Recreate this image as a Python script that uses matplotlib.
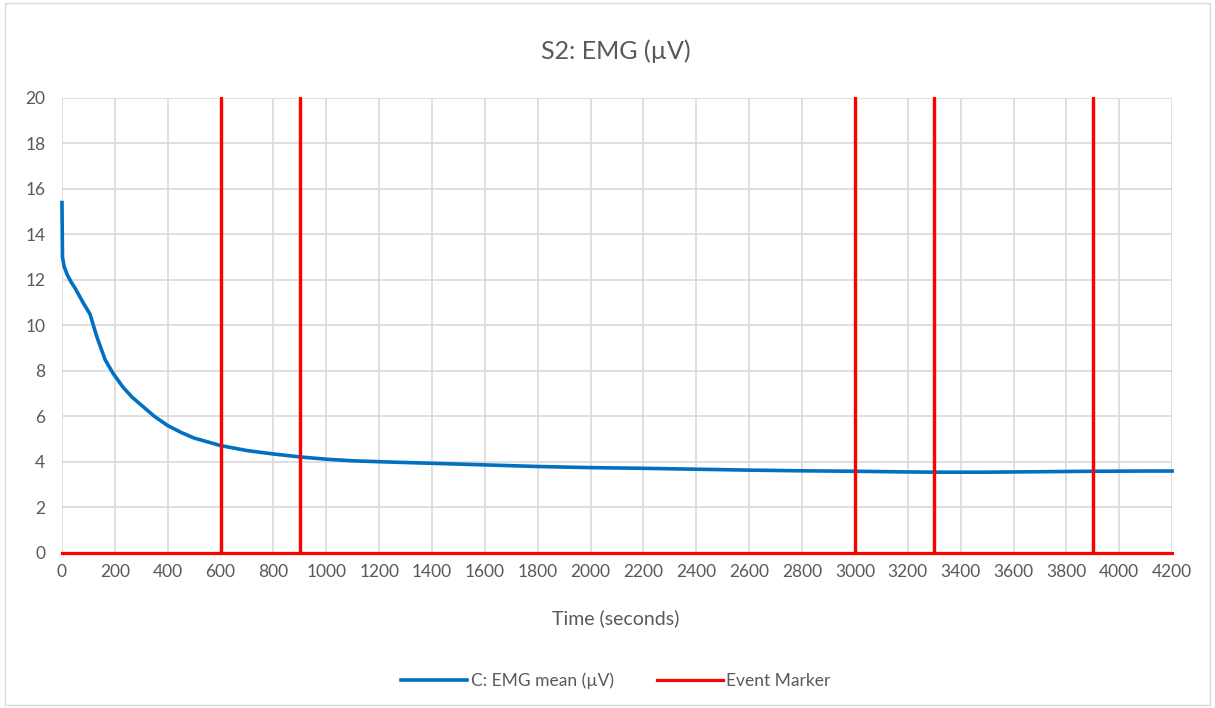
import numpy as np
import matplotlib.pyplot as plt
from matplotlib.patches import Rectangle

# EMG mean readings (seconds, µV)
time_s = [0, 2, 8, 19, 35, 49, 80, 106, 132, 163, 193, 230, 265, 300, 350, 400,
          450, 500, 600, 700, 800, 900, 1000, 1100, 1200, 1400, 1600, 1800, 2000,
          2200, 2400, 2600, 2800, 3000, 3200, 3300, 3500, 3700, 3900, 4100, 4200]
emg_mean = [15.4, 13.0, 12.6, 12.25, 11.9, 11.65, 11.0, 10.5, 9.5, 8.5, 7.9, 7.3,
            6.85, 6.5, 6.0, 5.6, 5.3, 5.05, 4.72, 4.5, 4.35, 4.22, 4.12, 4.05, 4.01,
            3.94, 3.87, 3.8, 3.75, 3.72, 3.68, 3.64, 3.61, 3.59, 3.56, 3.55, 3.55,
            3.57, 3.59, 3.6, 3.6]

# event marker times (seconds); marker goes 0 -> 20 at each event
event_times = [600, 900, 3000, 3300, 3900]
event_high = 20

ev_x = [0]
ev_y = [0]
for t in event_times:
    ev_x += [t, t, t]
    ev_y += [0, event_high, 0]
ev_x.append(4200)
ev_y.append(0)

grey = "#595959"
plt.rcParams['font.family'] = ['Lato', 'DejaVu Sans']

fig = plt.figure(figsize=(12.15, 7.08), dpi=100)
fig.patches.append(Rectangle((0.004, 0.004), 0.992, 0.992, transform=fig.transFigure,
                             fill=False, edgecolor="#d9d9d9", linewidth=1))
ax = fig.add_axes([0.051, 0.219, 0.9137, 0.6427])

ax.plot(time_s, emg_mean, color="#0070C0", lw=2.6, label="C: EMG mean (µV)",
        solid_joinstyle="round", zorder=3, clip_on=False)
ax.plot(ev_x, ev_y, color="#FF0000", lw=2.3, label="Event Marker", zorder=4,
        clip_on=False)

ax.set_xlim(0, 4200)
ax.set_ylim(0, 20)
ax.set_xticks(np.arange(0, 4201, 200))
ax.set_yticks(np.arange(0, 21, 2))
ax.grid(True, color="#d9d9d9", lw=1.2)
ax.set_axisbelow(True)
for s in ax.spines.values():
    s.set_visible(False)
ax.tick_params(length=0, labelsize=12.5, colors=grey, pad=8)
ax.tick_params(axis='y', pad=12)

fig.text(0.507, 0.928, "S2: EMG (µV)", ha="center", va="center", fontsize=18, color=grey)
fig.text(0.507, 0.127, "Time (seconds)", ha="center", va="center", fontsize=14, color=grey)

leg = fig.legend(loc="center", bbox_to_anchor=(0.507, 0.038), ncol=2, frameon=False,
                 fontsize=12.5, handlelength=3.8, columnspacing=2.5, handletextpad=0.2)
for t in leg.get_texts():
    t.set_color(grey)

fig.savefig("out.png", dpi=100)
